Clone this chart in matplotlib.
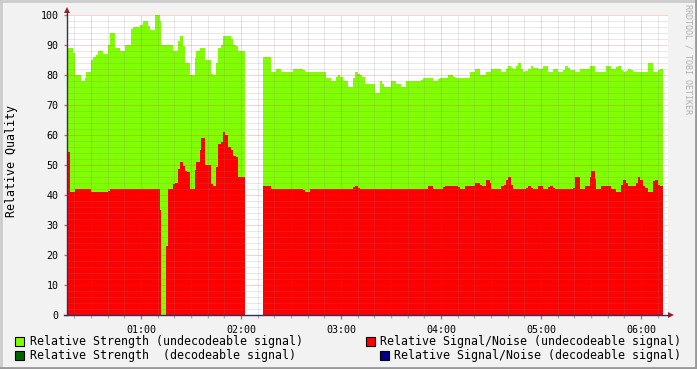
import numpy as np
import matplotlib
matplotlib.use("Agg")
import matplotlib.pyplot as plt
from matplotlib.patches import Rectangle, Polygon
from matplotlib.lines import Line2D

# ------------------------------------------
# data: step start times (minutes after 00:00) and values
# nan = no data for that step
# ------------------------------------------
nan = np.nan

green_t = [15.6, 16.2, 19.0, 20.2, 24.0, 26.4, 27.0, 30.0, 31.2, 33.0, 34.2, 37.2,
           40.2, 41.4, 44.4, 47.4, 50.4, 54.0, 55.2, 59.4, 61.2, 64.2, 65.4, 68.4,
           71.4, 72.0, 79.2, 82.2, 83.4, 85.2, 86.4, 89.4, 92.4, 93.0, 95.4, 98.4,
           102.0, 103.2, 105.0, 106.2, 108.0, 109.2, 114.0, 115.2, 117.0, 118.2, 122.4,
           133.2, 138.0, 141.0, 144.0, 151.2, 157.2, 158.4, 171.0, 174.0, 177.0, 178.2,
           179.4, 181.2, 184.2, 187.2, 188.4, 190.2, 191.4, 192.6, 194.4, 200.4, 203.4,
           204.6, 205.8, 210.0, 213.0, 216.0, 219.0, 228.0, 229.2, 235.2, 238.2, 239.4,
           244.2, 247.2, 248.4, 257.4, 260.4, 263.4, 267.0, 270.0, 276.0, 279.0, 280.2,
           282.0, 283.2, 285.0, 286.2, 288.0, 289.2, 290.4, 292.2, 294.0, 295.2, 298.2,
           301.2, 304.2, 307.2, 310.2, 313.2, 314.4, 316.2, 317.4, 320.4, 323.4, 329.4,
           332.4, 339.0, 342.0, 345.0, 346.2, 348.0, 349.2, 351.0, 352.2, 354.0, 355.2,
           364.2, 367.2, 370.2, 371.4]
green_v = [95, 89, 87.3, 80, 78, 79, 81, 85, 86, 86.7, 88, 87,
           90, 94, 89, 88, 90, 95.3, 96, 96.7, 98, 96.3, 95, 100,
           98, 90, 88, 91.3, 93, 89.7, 84, 80, 85.7, 88, 89, 85,
           80.3, 80, 84, 89, 90, 93, 92, 90, 89.7, 88, nan,
           86, 81, 82, 81, 82, 81.7, 81, 79, 78, 79.3, 80,
           79.3, 78, 76, 79, 81, 80.3, 80, 79.3, 77, 74, 78,
           77, 76, 78, 77, 76, 78, 78.3, 79, 78, 78.7, 79,
           80, 79.3, 79, 81, 82, 80, 81, 82, 81, 82, 83,
           82.3, 82, 83, 84, 82, 81, 81.3, 82, 83, 82.3, 82,
           83, 81, 82, 81, 81.7, 83, 82.3, 81.7, 81, 82, 83,
           81, 83, 82, 82.7, 83, 81.7, 81, 81.3, 82, 81.7, 81,
           84, 81, 81.7, 82]

red_t = [15.6, 16.2, 17.4, 20.4, 30.0, 40.2, 41.4, 71.4, 72.0, 75.0, 76.2, 79.2,
         80.4, 82.2, 83.4, 85.2, 86.4, 87.6, 89.4, 92.4, 93.0, 95.4, 96.0, 98.4,
         102.0, 103.2, 105.0, 106.2, 108.0, 109.2, 110.4, 112.2, 114.0, 115.2, 117.0,
         118.2, 122.4, 133.2, 138.0, 157.2, 158.4, 161.4, 187.2, 188.4, 190.2, 191.4,
         232.2, 235.2, 241.2, 242.4, 250.2, 251.4, 254.4, 260.4, 263.4, 264.6, 267.0,
         269.4, 270.0, 276.0, 277.8, 279.0, 280.2, 282.0, 283.2, 291.0, 292.2, 294.0,
         295.2, 298.2, 301.2, 304.2, 305.4, 307.2, 308.4, 319.2, 320.4, 323.4, 326.4,
         329.4, 330.0, 332.4, 333.0, 336.0, 342.0, 345.0, 348.0, 349.2, 351.0, 352.2,
         357.0, 358.2, 359.4, 361.2, 362.4, 364.2, 367.2, 368.4, 370.2, 371.4]
red_v = [64.1, 54.3, 41, 42, 41, 41.3, 42, 35, 0, 23, 42, 43.7,
         44, 48.7, 51, 49.7, 48, 47.7, 42, 48.3, 51, 55, 59, 50,
         43.7, 43, 49.3, 57, 57.7, 61, 60, 56, 55, 53, 52.7,
         46, nan, 43, 42, 41.7, 41, 42, 42.7, 43, 42.3, 42,
         43, 42, 42.7, 43, 42.7, 42, 43, 44, 43.3, 43, 45,
         44, 42, 43, 43.3, 45, 46, 43.3, 42, 42.3, 43, 42.3,
         42, 43, 42, 42.7, 43, 42.3, 42, 42.3, 46, 42, 43,
         46, 48, 45.3, 42, 43, 42, 41, 43.3, 45, 44, 43,
         44, 46, 45, 43, 42.3, 41, 44.7, 45, 43.3, 43]
t_end = 373.2

hour_ticks = [60, 120, 180, 240, 300, 360]
hour_labels = ["01:00", "02:00", "03:00", "04:00", "05:00", "06:00"]
y_ticks = list(range(0, 101, 10))

legend_left = [("Relative Strength (undecodeable signal)", "#7FFF00"),
               ("Relative Strength  (decodeable signal)", "#006400")]
legend_right = [("Relative Signal/Noise (undecodeable signal)", "#FF0000"),
                ("Relative Signal/Noise (decodeable signal)", "#00008B")]

assert len(green_t) == len(green_v)
assert len(red_t) == len(red_v)

# ------------------------------------------
# figure
# ------------------------------------------
W, H = 697, 369
MONO = "DejaVu Sans Mono"

fig = plt.figure(figsize=(W / 100, H / 100), dpi=100, facecolor="#F2F2F2")


def px(x, y):
    # pixel (top-left origin) -> figure fraction
    return x / W, 1 - y / H


ax = fig.add_axes([67 / W, 54 / H, 601 / W, 300 / H])
ax.set_facecolor("white")
ax.set_xlim(15.6, 376.2)
ax.set_ylim(0, 100)
for s in ax.spines.values():
    s.set_visible(False)

ax.stairs(green_v, green_t + [t_end], baseline=0, fill=True,
          color="#7FFF00", lw=0, zorder=1)
ax.stairs(red_v, red_t + [t_end], baseline=0, fill=True,
          color="#FF0000", lw=0, zorder=2)

# grid on top of the data, like rrdtool
minor_c = (0.5, 0.5, 0.5, 0.35)
major_c = (0.95, 0.1, 0.1, 0.4)
dots = (0, (1, 1))
for m in np.arange(20, 376, 10):
    c = major_c if m % 30 == 0 else minor_c
    ax.axvline(m, color=c, lw=0.72, ls=dots, zorder=3)
for v in range(2, 101, 2):
    c = major_c if v % 10 == 0 else minor_c
    ax.axhline(v, color=c, lw=0.72, ls=dots, zorder=3)

ax.set_xticks(hour_ticks)
ax.set_xticklabels(hour_labels, family=MONO, fontsize=7.2)
ax.set_xticks(np.arange(20, 376, 10), minor=True)
ax.set_yticks(y_ticks)
ax.set_yticklabels([str(v) for v in y_ticks], family=MONO, fontsize=7.2)
ax.tick_params(axis="x", which="major", length=3, width=1, color="#C07070", pad=4)
ax.tick_params(axis="x", which="minor", length=2, width=1, color="#B0B0B0")
ax.tick_params(axis="y", which="major", length=2, width=1, color="#C07070", pad=4)

# axes lines + arrows
axis_c = "#303060"
arrow_c = "#9A2525"
fig.add_artist(Line2D(*zip(px(67, 315), px(67, 12)), color=axis_c, lw=1))
fig.add_artist(Line2D(*zip(px(64, 315), px(669, 315)), color=axis_c, lw=1))
fig.add_artist(Polygon([px(67, 7), px(64, 13), px(70, 13)], closed=True,
                       color=arrow_c, lw=0))
fig.add_artist(Polygon([px(674, 315), px(668, 312), px(668, 318)], closed=True,
                       color=arrow_c, lw=0))

# labels
fig.text(*px(12, 161), "Relative Quality", rotation=90, ha="center", va="center",
         family=MONO, fontsize=8.4)
fig.text(*px(688, 4), "RRDTOOL / TOBI OETIKER", rotation=270, ha="center", va="top",
         family=MONO, fontsize=6, color="#B0B0B0")

# legend
rows_y = [341, 355]
for (label, col), y in zip(legend_left, rows_y):
    fig.add_artist(Rectangle(px(15, y + 4.5), 9 / W, 9 / H, facecolor=col,
                             edgecolor="black", lw=0.8))
    fig.text(*px(30, y), label, ha="left", va="center", family=MONO, fontsize=8.4)
for (label, col), y in zip(legend_right, rows_y):
    fig.text(*px(681, y), label, ha="right", va="center", family=MONO, fontsize=8.4)
    x0 = 681 - len(label) * 7.0 - 14
    fig.add_artist(Rectangle(px(x0, y + 4.5), 9 / W, 9 / H, facecolor=col,
                             edgecolor="black", lw=0.8))

# 3d-ish frame
fig.add_artist(Line2D([0, 1], [1 - 1 / H, 1 - 1 / H], color="#CBCBCB", lw=2))
fig.add_artist(Line2D([1 / W, 1 / W], [0, 1], color="#CBCBCB", lw=2))
fig.add_artist(Line2D([0, 1], [1 / H, 1 / H], color="#999999", lw=2))
fig.add_artist(Line2D([1 - 1 / W, 1 - 1 / W], [0, 1], color="#999999", lw=2))

fig.savefig("out.png", dpi=100, facecolor=fig.get_facecolor())
